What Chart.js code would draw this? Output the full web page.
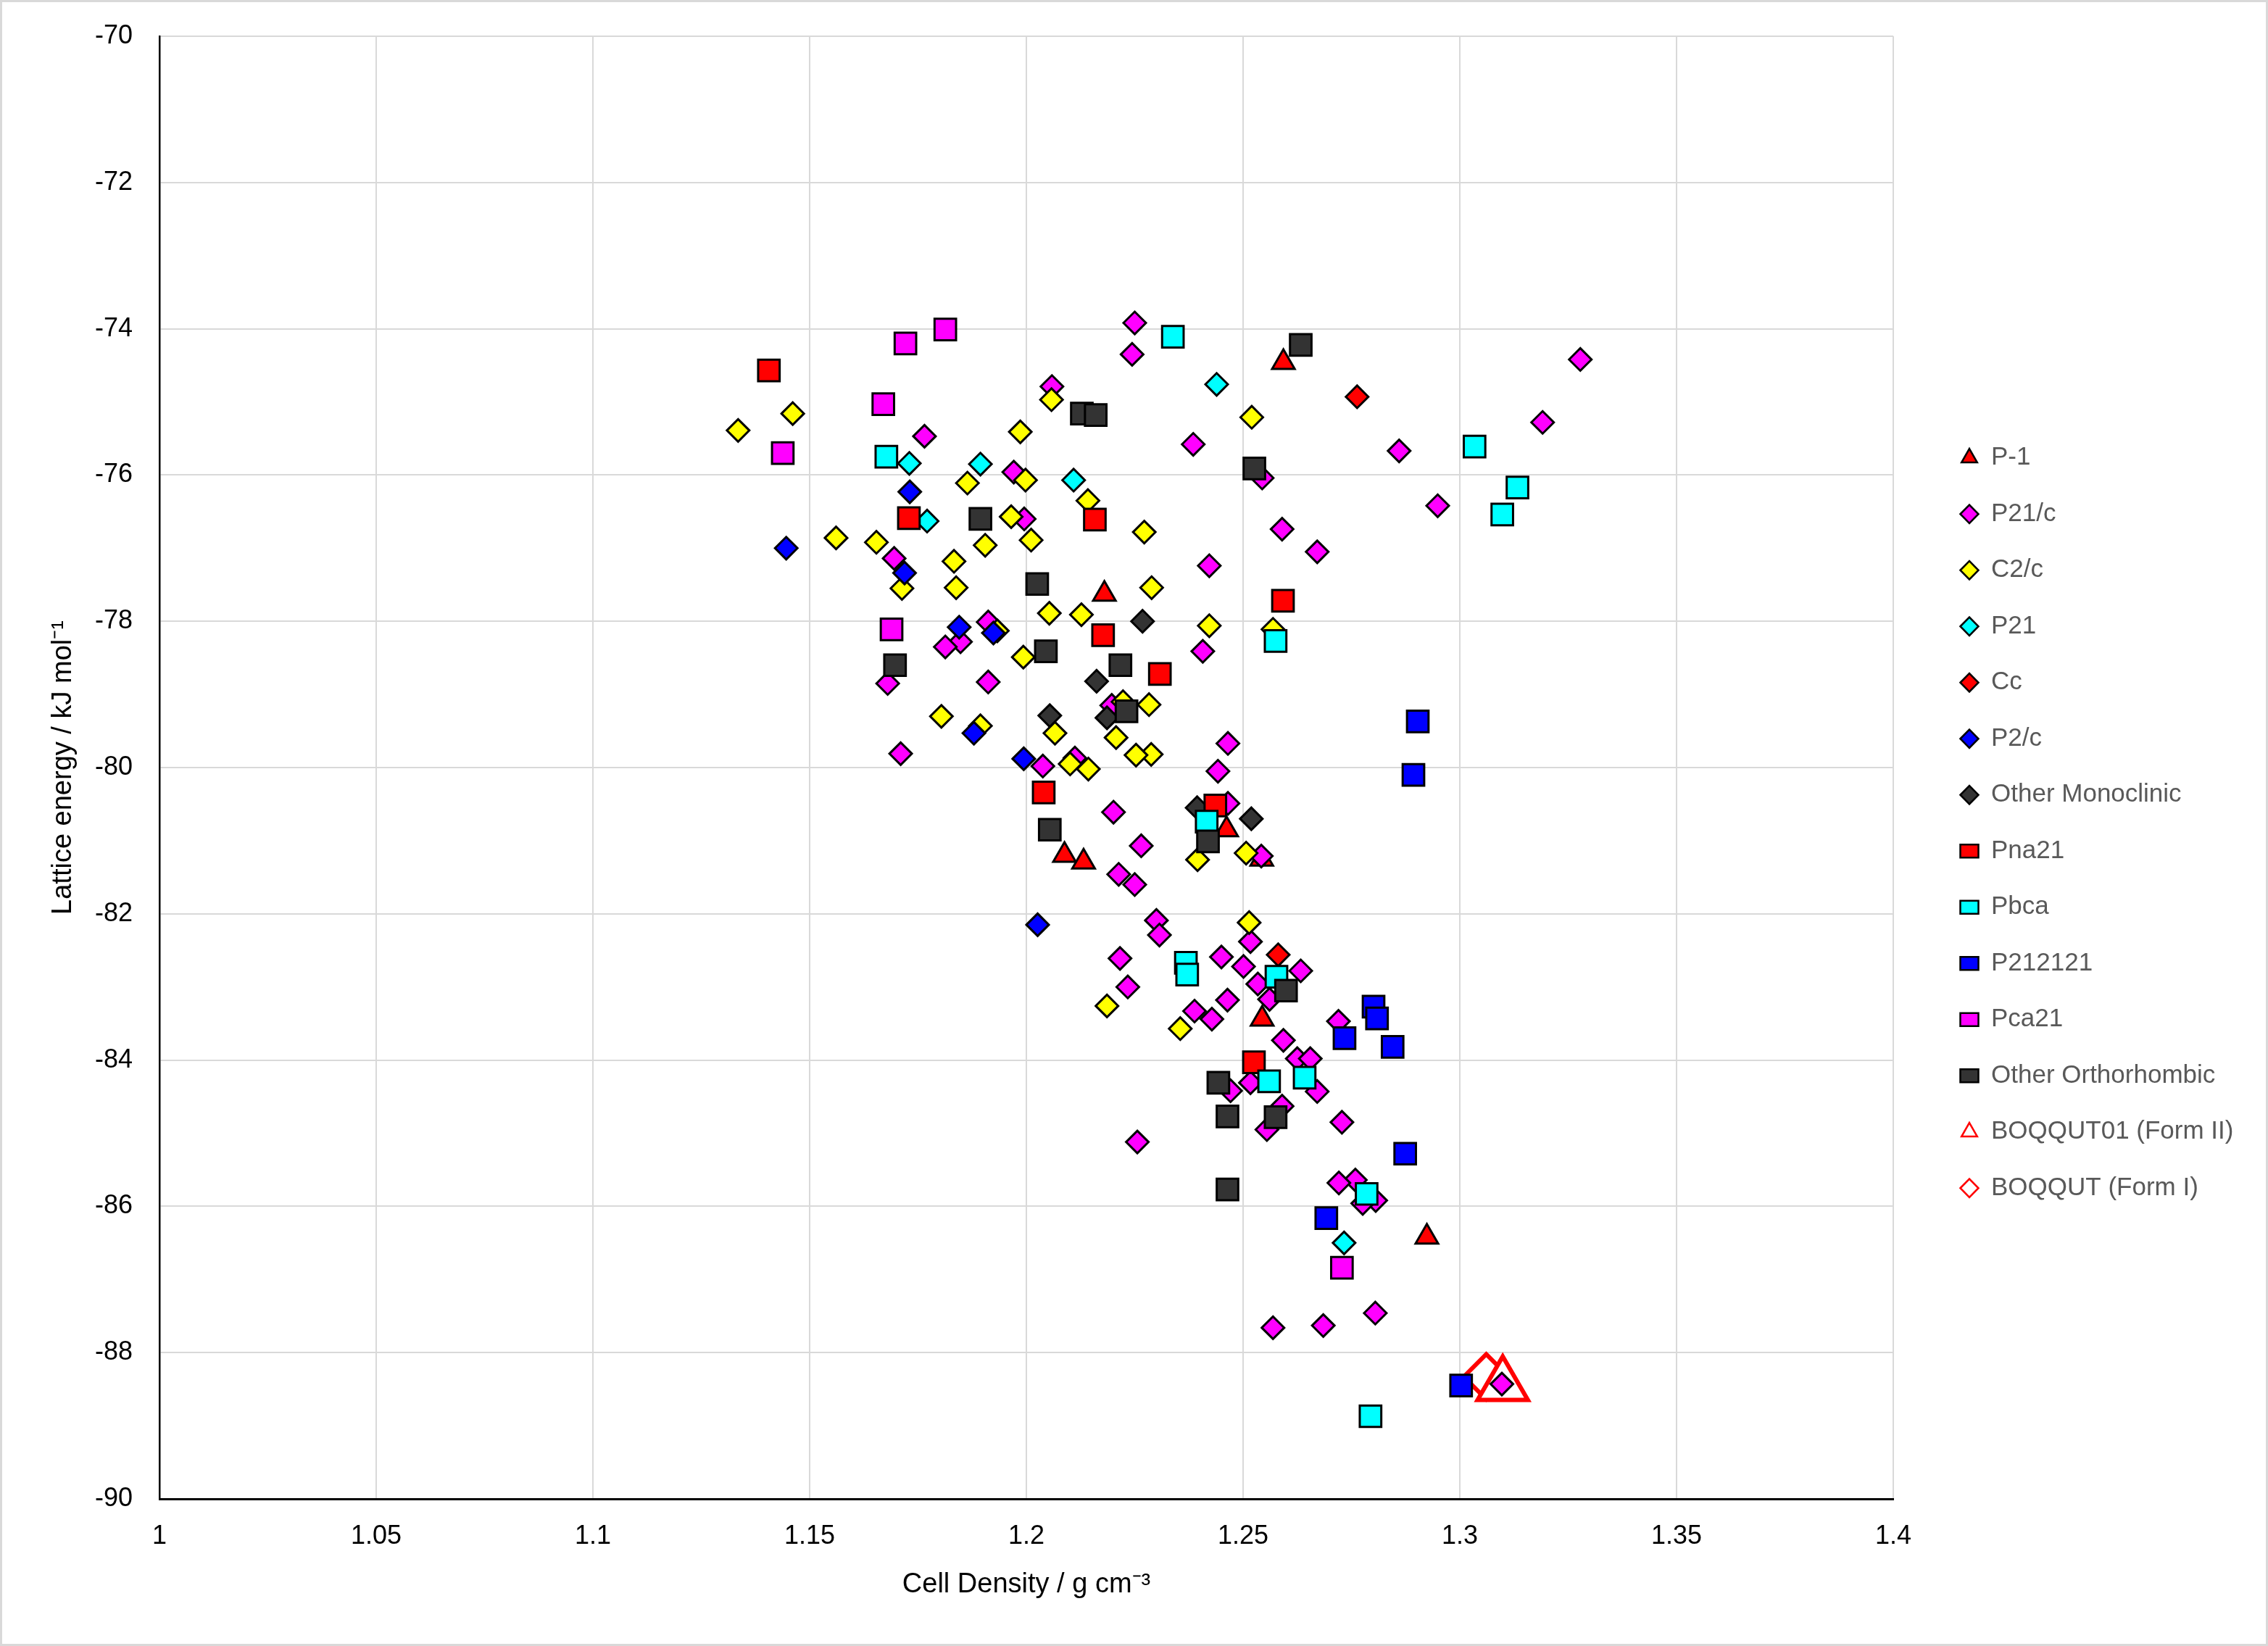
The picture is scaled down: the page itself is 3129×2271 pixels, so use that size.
<!DOCTYPE html>
<html>
<head>
<meta charset="utf-8">
<title>Lattice energy vs cell density</title>
<script src="https://cdn.jsdelivr.net/npm/chart.js@4.4.1/dist/chart.umd.min.js"></script>
<style>
  html, body { margin: 0; padding: 0; background: #fff; }
  #chart { display: block; }
</style>
</head>
<body>
<canvas id="chart" width="3129" height="2271"></canvas>
<script>
// [density g/cm3, lattice energy kJ/mol]
const pMinus1 = [[1.2593,-74.46],[1.2180,-77.63],[1.2088,-81.20],[1.2132,-81.29],[1.2462,-80.85],[1.2543,-81.25],[1.2544,-83.44],[1.2924,-86.42]];
const p21c = [[1.2250,-73.92],[1.2244,-74.35],[1.2059,-74.79],[1.1765,-75.47],[1.2385,-75.58],[1.2860,-75.67],[1.3278,-74.42],[1.3191,-75.28],
  [1.1971,-75.96],[1.2544,-76.04],[1.2949,-76.42],[1.1995,-76.60],[1.2590,-76.74],[1.2671,-77.05],[1.1695,-77.14],[1.2422,-77.24],
  [1.1912,-78.01],[1.1848,-78.28],[1.1813,-78.35],[1.2407,-78.41],[1.1680,-78.85],[1.1912,-78.83],[1.2197,-79.15],[1.2465,-79.67],
  [1.1710,-79.81],[1.2112,-79.87],[1.2038,-79.98],[1.2442,-80.05],[1.2465,-80.49],[1.2201,-80.61],[1.2265,-81.07],[1.2542,-81.21],
  [1.2213,-81.46],[1.2250,-81.60],[1.2300,-82.09],[1.2307,-82.29],[1.2517,-82.38],[1.2450,-82.59],[1.2216,-82.61],[1.2501,-82.72],
  [1.2633,-82.78],[1.2534,-82.96],[1.2234,-83.00],[1.2561,-83.17],[1.2464,-83.18],[1.2388,-83.33],[1.2428,-83.44],[1.2720,-83.47],
  [1.2593,-83.73],[1.2625,-83.98],[1.2655,-83.98],[1.2517,-84.31],[1.2471,-84.42],[1.2671,-84.43],[1.2590,-84.63],[1.2728,-84.85],
  [1.2555,-84.95],[1.2256,-85.12],[1.2759,-85.64],[1.2721,-85.68],[1.2806,-85.92],[1.2776,-85.96],[1.2805,-87.46],[1.2685,-87.63],
  [1.2569,-87.66],[1.3097,-88.43]];
const c2c = [[1.2058,-74.97],[1.1461,-75.16],[1.2520,-75.21],[1.1335,-75.39],[1.1986,-75.41],[1.1998,-76.07],[1.1864,-76.11],[1.2142,-76.35],
  [1.1965,-76.57],[1.2272,-76.78],[1.1561,-76.86],[1.2011,-76.89],[1.1654,-76.92],[1.1905,-76.96],[1.1833,-77.18],[1.1838,-77.54],
  [1.1713,-77.55],[1.2289,-77.54],[1.2053,-77.89],[1.2127,-77.91],[1.2422,-78.06],[1.2569,-78.11],[1.1933,-78.13],[1.1993,-78.49],
  [1.2223,-79.10],[1.2283,-79.14],[1.1804,-79.30],[1.1894,-79.43],[1.2066,-79.53],[1.2207,-79.59],[1.2288,-79.82],[1.2253,-79.83],
  [1.2101,-79.95],[1.2143,-80.02],[1.2507,-81.17],[1.2395,-81.26],[1.2514,-82.12],[1.2186,-83.26],[1.2355,-83.57]];
const p21 = [[1.2439,-74.76],[1.1730,-75.84],[1.1894,-75.85],[1.2109,-76.07],[1.1771,-76.63],[1.2733,-86.50]];
const cc = [[1.2763,-74.93],[1.2581,-82.56]];
const p2c = [[1.1731,-76.23],[1.1446,-77.00],[1.1719,-77.34],[1.1845,-78.08],[1.1924,-78.16],[1.1879,-79.53],[1.1994,-79.88],[1.2026,-82.15]];
const otherMono = [[1.2268,-78.00],[1.2162,-78.82],[1.2054,-79.29],[1.2186,-79.32],[1.2394,-80.55],[1.2519,-80.70]];
const pna21 = [[1.1406,-74.57],[1.1729,-76.59],[1.2158,-76.61],[1.2592,-77.72],[1.2177,-78.19],[1.2308,-78.72],[1.2040,-80.34],[1.2436,-80.52],[1.2525,-84.03]];
const pbca = [[1.2338,-74.11],[1.1677,-75.75],[1.3034,-75.61],[1.3133,-76.17],[1.3098,-76.54],[1.2575,-78.27],[1.2416,-80.74],
  [1.2368,-82.67],[1.2371,-82.83],[1.2577,-82.86],[1.2560,-84.29],[1.2642,-84.24],[1.2785,-85.83],[1.2794,-88.87]];
const p212121 = [[1.2903,-79.37],[1.2893,-80.10],[1.2801,-83.27],[1.2809,-83.43],[1.2734,-83.70],[1.2845,-83.82],[1.2874,-85.28],[1.2692,-86.16],[1.3003,-88.45]];
const pca21 = [[1.1813,-74.01],[1.1721,-74.20],[1.1670,-75.03],[1.1438,-75.70],[1.1689,-78.11],[1.2728,-86.84]];
const otherOrtho = [[1.2633,-74.22],[1.2128,-75.16],[1.2160,-75.18],[1.2526,-75.91],[1.1894,-76.60],[1.2025,-77.49],[1.2045,-78.41],
  [1.1697,-78.60],[1.2217,-78.60],[1.2231,-79.23],[1.2054,-80.85],[1.2419,-81.01],[1.2599,-83.05],[1.2443,-84.31],[1.2464,-84.77],
  [1.2575,-84.78],[1.2464,-85.77]];
const formII = [[1.3099,-88.45]];
const formI = [[1.3061,-88.33]];

const xTickLabels = ['1','1.05','1.1','1.15','1.2','1.25','1.3','1.35','1.4'];
const yTickLabels = ['-90','-88','-86','-84','-82','-80','-78','-76','-74','-72','-70'];

// legend order (as in the picture)
const legendOrder = ['P-1','P21/c','C2/c','P21','Cc','P2/c','Other Monoclinic','Pna21','Pbca','P212121','Pca21','Other Orthorhombic','BOQQUT01 (Form II)','BOQQUT (Form I)'];

const FONT = "'Liberation Sans', Arial, sans-serif";
const plotRight = 2612;
const legendLeft = 2662;

function pts(arr) { return arr.map(p => ({x: p[0], y: p[1]})); }

function series(label, data, shape, fill, radius, edge, width) {
    return {
        label: label,
        data: pts(data),
        pointStyle: shape,
        backgroundColor: fill,
        borderColor: edge || '#000000',
        pointRadius: radius,
        pointBorderWidth: width || 3,
        borderWidth: width || 3,
        showLine: false
    };
}

// first dataset is drawn on top in Chart.js
const datasets = [
    series('Other Orthorhombic', otherOrtho, 'rect', '#333333', 21),
    series('Pca21', pca21, 'rect', '#ff00ff', 21),
    series('P212121', p212121, 'rect', '#0000ff', 21),
    series('Pbca', pbca, 'rect', '#00ffff', 21),
    series('Pna21', pna21, 'rect', '#ff0000', 21),
    series('Other Monoclinic', otherMono, 'rectRot', '#333333', 15.5),
    series('P2/c', p2c, 'rectRot', '#0000ff', 15.5),
    series('Cc', cc, 'rectRot', '#ff0000', 15.5),
    series('P21', p21, 'rectRot', '#00ffff', 15.5),
    series('C2/c', c2c, 'rectRot', '#ffff00', 15.5),
    series('P21/c', p21c, 'rectRot', '#ff00ff', 15.5),
    series('P-1', pMinus1, 'triangle', '#ff0000', 18),
    series('BOQQUT01 (Form II)', formII, 'triangle', '#ffffff', 40, '#ff0000', 6),
    series('BOQQUT (Form I)', formI, 'rectRot', '#ffffff', 31, '#ff0000', 6)
];

// white page + thin grey frame
const frame = {
    id: 'frame',
    beforeDraw(chart) {
        const c = chart.ctx;
        c.save();
        c.fillStyle = '#ffffff';
        c.fillRect(0, 0, chart.width, chart.height);
        c.restore();
    },
    afterDraw(chart) {
        const c = chart.ctx;
        c.save();
        c.strokeStyle = '#d9d9d9';
        c.lineWidth = 3;
        c.strokeRect(1.5, 1.5, chart.width - 3, chart.height - 3);
        c.restore();
    }
};

// keep the plot area where the picture has it, legend sits a bit further right
const legendPlacement = {
    id: 'legendPlacement',
    afterInit(chart) {
        const legend = chart.legend;
        const fit = legend.fit;
        legend.fit = function () {
            fit.call(this);
            this.width = chart.width - plotRight;
        };
    },
    afterLayout(chart) {
        const legend = chart.legend;
        legend.left = legendLeft;
        legend.right = chart.width;
        legend.top = 0;
        legend.bottom = chart.height;
        legend.width = legend.right - legend.left;
        legend.height = chart.height;
    }
};

const ctx = document.getElementById('chart').getContext('2d');
new Chart(ctx, {
    type: 'scatter',
    data: { datasets: datasets },
    options: {
        responsive: false,
        animation: false,
        events: [],
        layout: { autoPadding: false, padding: { top: 50, left: 0, right: 0, bottom: 0 } },
        scales: {
            x: {
                type: 'linear',
                min: 1,
                max: 1.4,
                afterFit(scale) { scale.height = 203; },
                ticks: {
                    stepSize: 0.05,
                    color: '#000000',
                    padding: 30,
                    font: { family: FONT, size: 36 },
                    callback: (v, i) => xTickLabels[i]
                },
                grid: { color: '#d9d9d9', lineWidth: 2, drawTicks: false },
                border: { color: '#000000', width: 3 },
                title: {
                    display: true,
                    text: 'Cell Density / g cm⁻³',
                    color: '#000000',
                    font: { family: FONT, size: 38 },
                    padding: { top: 0, bottom: 62 }
                }
            },
            y: {
                type: 'linear',
                min: -90,
                max: -70,
                afterFit(scale) {
                    scale.width = 220;
                    scale.paddingTop = 0;
                    scale.paddingBottom = 0;
                },
                ticks: {
                    stepSize: 2,
                    color: '#000000',
                    padding: 37,
                    font: { family: FONT, size: 36 },
                    callback: (v, i) => yTickLabels[i]
                },
                grid: { color: '#d9d9d9', lineWidth: 2, drawTicks: false },
                border: { color: '#000000', width: 2.5 },
                title: {
                    display: true,
                    text: 'Lattice energy / kJ mol⁻¹',
                    color: '#000000',
                    font: { family: FONT, size: 38 },
                    padding: { top: 65, bottom: 0 }
                }
            }
        },
        plugins: {
            tooltip: { enabled: false },
            legend: {
                position: 'right',
                labels: {
                    usePointStyle: true,
                    pointStyleWidth: 25,
                    boxHeight: 18,
                    padding: 42.5,
                    color: '#595959',
                    font: { family: FONT, size: 35 },
                    sort: (a, b) => legendOrder.indexOf(a.text) - legendOrder.indexOf(b.text),
                    generateLabels(chart) {
                        const items = Chart.defaults.plugins.legend.labels.generateLabels(chart);
                        items.forEach(it => { it.lineWidth = Math.min(it.lineWidth, 2.5); });
                        return items;
                    }
                }
            }
        }
    },
    plugins: [frame, legendPlacement]
});
</script>
</body>
</html>
